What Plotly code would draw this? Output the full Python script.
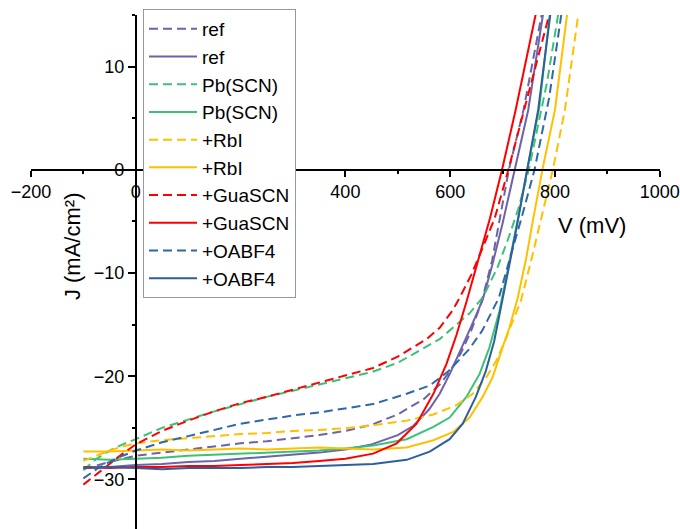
import plotly.graph_objects as go

# ---- data (V in mV, J in mA/cm^2) ----
ref_d_v = [-100, -50, 0, 50, 100, 150, 200, 250, 300, 350, 400, 450, 500, 550, 580, 600, 620, 640, 660, 680, 700, 712, 740, 774, 782]
ref_d_j = [-29.0, -28.3, -27.7, -27.4, -27.1, -26.8, -26.5, -26.3, -26.0, -25.7, -25.3, -24.7, -23.7, -22.2, -20.8, -19.5, -17.8, -15.6, -12.8, -8.8, -3.3, 0, 5.8, 15.0, 17.0]

ref_s_v = [-100, -50, 0, 50, 100, 150, 200, 250, 300, 350, 400, 450, 500, 530, 560, 580, 600, 620, 640, 662, 680, 700, 723, 749, 777, 785]
ref_s_j = [-28.9, -28.8, -28.6, -28.5, -28.3, -28.2, -28.0, -27.8, -27.6, -27.4, -27.1, -26.6, -25.7, -24.8, -23.2, -21.7, -19.7, -17.5, -15.2, -12.6, -9.3, -5.2, 0, 5.8, 15.0, 17.5]

pb_d_v = [-100, -75, -50, -25, 0, 50, 100, 150, 200, 250, 300, 350, 400, 450, 500, 550, 580, 612, 637, 663, 690, 710, 730, 750, 768, 785, 806, 812]
pb_d_j = [-29.1, -28.0, -27.2, -26.6, -26.1, -25.0, -24.2, -23.4, -22.7, -22.0, -21.4, -20.8, -20.2, -19.6, -18.7, -17.3, -16.4, -15.0, -13.9, -12.3, -9.5, -6.8, -3.8, 0, 4.2, 8.5, 15.0, 17.0]

pb_s_v = [-100, -50, 0, 50, 100, 150, 200, 250, 300, 350, 400, 453, 517, 568, 599, 631, 656, 675, 694, 715, 730, 747, 770, 790, 797]
pb_s_j = [-28.0, -28.1, -28.0, -27.9, -27.7, -27.6, -27.5, -27.4, -27.3, -27.2, -27.0, -26.7, -26.1, -24.9, -24.0, -22.0, -19.8, -17.2, -13.7, -8.5, -4.6, 0, 6.0, 15.0, 18.0]

rbi_d_v = [-100, -75, -50, -25, 0, 50, 100, 150, 200, 250, 300, 350, 408, 460, 517, 568, 612, 643, 669, 688, 707, 719, 735, 755, 774, 796, 819, 844, 850]
rbi_d_j = [-28.2, -27.7, -27.2, -26.8, -26.5, -26.2, -26.0, -25.8, -25.6, -25.5, -25.3, -25.2, -25.0, -24.7, -24.3, -23.7, -22.8, -21.7, -20.1, -18.5, -16.3, -14.7, -12.7, -8.7, -4.7, 0, 5.8, 15.0, 17.0]

rbi_s_v = [-100, -50, 0, 50, 100, 150, 200, 250, 300, 350, 400, 453, 517, 568, 606, 637, 662, 681, 700, 713, 729, 745, 758, 776, 800, 822, 828]
rbi_s_j = [-27.3, -27.3, -27.2, -27.1, -27.2, -27.1, -27.0, -27.1, -27.0, -26.9, -27.0, -27.1, -26.9, -26.2, -25.4, -24.0, -22.0, -20.1, -17.2, -15.3, -12.4, -8.6, -4.9, 0, 5.8, 15.0, 17.0]

gua_d_v = [-100, -75, -50, -25, 0, 50, 100, 150, 200, 250, 300, 350, 400, 453, 500, 530, 555, 580, 605, 618, 640, 660, 685, 711, 740, 761, 789, 796]
gua_d_j = [-30.5, -29.5, -28.5, -27.5, -26.6, -25.3, -24.3, -23.4, -22.6, -22.0, -21.3, -20.6, -19.9, -19.2, -18.1, -17.2, -16.4, -15.3, -13.6, -12.4, -10.2, -7.8, -4.7, 0, 5.5, 9.5, 15.0, 17.0]

gua_s_v = [-100, -50, 0, 50, 100, 150, 200, 250, 300, 350, 400, 453, 498, 536, 568, 593, 612, 631, 655, 676, 699, 725, 763, 770]
gua_s_j = [-28.8, -28.9, -28.8, -28.8, -28.7, -28.7, -28.6, -28.5, -28.4, -28.2, -28.0, -27.5, -26.5, -24.6, -21.7, -18.8, -16.0, -12.8, -8.6, -4.7, 0, 5.8, 15.0, 17.0]

oab_d_v = [-100, -75, -50, -25, 0, 50, 100, 150, 200, 250, 300, 350, 389, 453, 517, 561, 597, 636, 661, 680, 693, 715, 736, 761, 789, 812, 818]
oab_d_j = [-29.9, -29.0, -28.3, -27.7, -27.2, -26.4, -25.8, -25.2, -24.6, -24.2, -23.8, -23.5, -23.2, -22.7, -21.7, -20.9, -19.5, -17.4, -15.6, -13.7, -12.4, -8.4, -4.7, 0, 7.0, 15.0, 17.0]

oab_s_v = [-100, -50, 0, 50, 100, 150, 200, 250, 300, 350, 389, 453, 517, 561, 599, 624, 649, 668, 684, 700, 715, 730, 747, 768, 791, 797]
oab_s_j = [-28.9, -28.8, -28.9, -29.0, -28.9, -28.9, -28.9, -28.8, -28.8, -28.7, -28.6, -28.5, -28.1, -27.3, -26.1, -24.6, -22.0, -19.5, -16.6, -12.7, -8.7, -4.7, 0, 5.8, 15.0, 17.0]

names = ["ref", "ref", "Pb(SCN)", "Pb(SCN)", "+RbI", "+RbI", "+GuaSCN", "+GuaSCN", "+OABF4", "+OABF4"]
series = [(ref_d_v, ref_d_j), (ref_s_v, ref_s_j), (pb_d_v, pb_d_j), (pb_s_v, pb_s_j),
          (rbi_d_v, rbi_d_j), (rbi_s_v, rbi_s_j), (gua_d_v, gua_d_j), (gua_s_v, gua_s_j),
          (oab_d_v, oab_d_j), (oab_s_v, oab_s_j)]
colors = ["#6C63A8", "#6C63A8", "#3CC278", "#3CC278", "#FFC000", "#FFC000",
          "#FF0000", "#FF0000", "#2F67A8", "#2D5F9C"]
dashes = ["9px,5px", "solid"] * 5

x_ticks = [-200, 0, 200, 400, 600, 800, 1000]
y_ticks = [-30, -20, -10, 0, 10]

FONT = "Liberation Sans, Arial, sans-serif"
x_range = [-200, 1000.5]
y_range = [-34.8, 15]

fig = go.Figure()
for (v, j), nm, c, d in zip(series, names, colors, dashes):
    fig.add_trace(go.Scatter(x=v, y=j, mode="lines", name=nm,
                             line=dict(color=c, width=2, dash=d)))

fig.update_layout(
    width=680, height=529,
    margin=dict(l=31, r=20, t=15, b=0, autoexpand=False),
    paper_bgcolor="white", plot_bgcolor="white",
    font=dict(family=FONT, color="black", size=18),
    showlegend=True,
    legend=dict(xref="container", yref="container",
                x=143 / 680, y=(529 - 9) / 529, xanchor="left", yanchor="top",
                bgcolor="white", bordercolor="#999999", borderwidth=1,
                font=dict(size=19, family=FONT), itemwidth=48,
                maxheight=1.0, traceorder="normal"),
    xaxis=dict(range=x_range, anchor="free", automargin=False,
               position=(0 - y_range[0]) / (y_range[1] - y_range[0]),
               showgrid=False, zeroline=False, showline=True, linecolor="black", linewidth=2,
               tickmode="array", tickvals=x_ticks, ticks="outside", ticklen=6, tickwidth=2,
               tickcolor="black", tickfont=dict(size=18, family=FONT),
               minor=dict(dtick=100, ticks="outside", ticklen=3, tickwidth=2, tickcolor="black", showgrid=False)),
    yaxis=dict(range=y_range, anchor="free", automargin=False,
               position=(0 - x_range[0]) / (x_range[1] - x_range[0]),
               showgrid=False, zeroline=False, showline=True, linecolor="black", linewidth=2,
               tickmode="array", tickvals=y_ticks, ticks="outside", ticklen=7, tickwidth=2,
               tickcolor="black", tickfont=dict(size=18, family=FONT),
               minor=dict(dtick=5, ticks="outside", ticklen=3, tickwidth=2, tickcolor="black", showgrid=False)),
    annotations=[
        dict(text="V (mV)", x=870, y=-5.4, xref="x", yref="y", showarrow=False,
             font=dict(size=22, family=FONT), xanchor="center", yanchor="middle"),
        dict(text="J (mA/cm²)", x=-122, y=-7.4, xref="x", yref="y", showarrow=False,
             textangle=-90, font=dict(size=22, family=FONT), xanchor="center", yanchor="middle"),
    ],
)

fig.write_html("out.html", config={"displayModeBar": False},
               post_script="document.body.style.margin='0';document.body.style.overflow='hidden';")
